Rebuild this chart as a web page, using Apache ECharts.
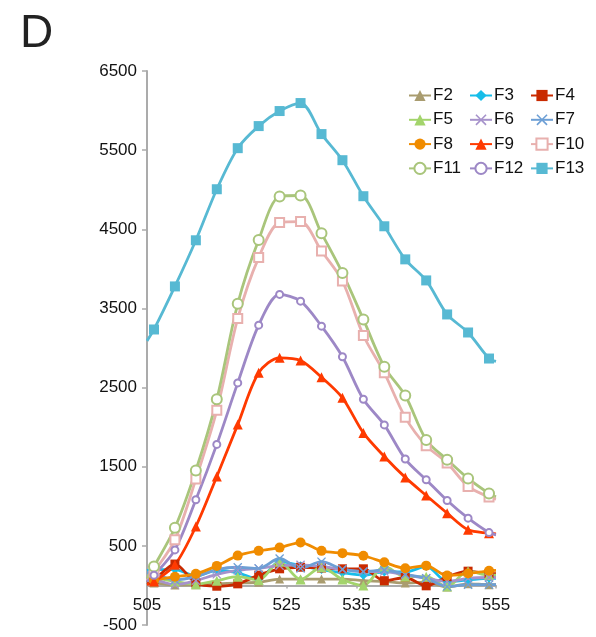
<!DOCTYPE html>
<html>
<head>
<meta charset="utf-8">
<script src="https://cdn.jsdelivr.net/npm/echarts@6/dist/echarts.min.js"></script>
<style>
html,body{margin:0;padding:0;background:#fff;}
#chart{width:596px;height:637px;}
</style>
</head>
<body>
<div id="chart"></div>
<script>
// wavelengths (nm) of measured points
const wavelengths = [506,509,512,515,518,521,524,527,530,533,536,539,542,545,548,551,554];
// where the lines are cut at the plot edges
const edgeX = [505, 555];
const xTicks = [505, 515, 525, 535, 545, 555];
const yTicks = [-500, 500, 1500, 2500, 3500, 4500, 5500, 6500];

const seriesNames = ['F2','F3','F4','F5','F6','F7','F8','F9','F10','F11','F12','F13'];
const F2  = [30, 5, 10, 20, 30, 40, 80, 80, 80, 80, 60, 50, 30, 40, -20, 20, 10];
const F3  = [200, 200, 120, 190, 160, 80, 300, 250, 200, 160, 130, 170, 170, 240, 50, 70, 90];
const F4  = [70, 270, 30, -10, 20, 130, 210, 230, 220, 210, 210, 60, 100, -5, 110, 180, 150];
const F5  = [100, 50, 15, 60, 110, 70, 300, 75, 230, 75, 0, 240, 110, 110, -15, 180, 130];
const F6  = [80, 10, 60, 140, 190, 215, 250, 260, 240, 200, 175, 175, 135, 90, 50, 90, 100];
const F7  = [150, 70, 110, 200, 230, 215, 340, 215, 300, 205, 175, 195, 140, 90, -15, 10, 10];
const F8  = [70, 110, 146, 247, 377, 437, 478, 542, 437, 408, 375, 292, 217, 250, 125, 150, 185];
const F9  = [50, 260, 744, 1377, 2032, 2686, 2876, 2842, 2630, 2370, 1927, 1630, 1365, 1137, 913, 703, 660];
const F10 = [171, 576, 1344, 2213, 3373, 4142, 4585, 4597, 4225, 3846, 3158, 2686, 2124, 1766, 1547, 1251, 1116];
const F11 = [238, 728, 1453, 2352, 3559, 4365, 4914, 4927, 4449, 3949, 3361, 2762, 2399, 1838, 1589, 1352, 1162];
const F12 = [129, 449, 1082, 1782, 2559, 3289, 3677, 3592, 3276, 2889, 2352, 2028, 1597, 1335, 1073, 850, 668];
const F13 = [3234, 3778, 4361, 5006, 5525, 5804, 5994, 6095, 5703, 5373, 4918, 4538, 4120, 3854, 3424, 3196, 2867];
// line values where lines meet the plot edges (505 and 555 nm)
const edgeValues = {
  F2: [20, 10], F3: [190, 90], F4: [40, 150], F5: [110, 130], F6: [100, 100], F7: [160, 10],
  F8: [60, 190], F9: [10, 650], F10: [60, 1090], F11: [90, 1120], F12: [50, 640], F13: [3090, 2830]
};
const values = {F2,F3,F4,F5,F6,F7,F8,F9,F10,F11,F12,F13};

const X_PATH = 'path://M0,1 L1,0 L5,4 L9,0 L10,1 L6,5 L10,9 L9,10 L5,6 L1,10 L0,9 L4,5 Z';
const styles = {
  F2:  {color:'#a99c6f', symbol:'triangle', size:9},
  F3:  {color:'#17bde9', symbol:'diamond', size:9},
  F4:  {color:'#c92a00', symbol:'rect', size:9},
  F5:  {color:'#a3d46c', symbol:'triangle', size:10},
  F6:  {color:'#a692cb', symbol:X_PATH, size:9},
  F7:  {color:'#6d9fd5', symbol:X_PATH, size:9},
  F8:  {color:'#f08c00', symbol:'circle', size:10},
  F9:  {color:'#ff3a00', symbol:'triangle', size:10},
  F10: {color:'#e8b0ae', symbol:'emptyRect', size:9},
  F11: {color:'#a9c57b', symbol:'emptyCircle', size:10},
  F12: {color:'#9d88c6', symbol:'emptyCircle', size:7},
  F13: {color:'#57b9d3', symbol:'rect', size:10}
};

const FONT = 'Liberation Sans, Arial, Helvetica, sans-serif';

const series = seriesNames.map(name => {
  const st = styles[name];
  const data = [{value:[edgeX[0], edgeValues[name][0]], symbol:'none'}]
    .concat(wavelengths.map((w,i) => [w, values[name][i]]))
    .concat([{value:[edgeX[1], edgeValues[name][1]], symbol:'none'}]);
  return {
    name, type:'line', data, smooth:0.3,
    symbol: st.symbol, symbolSize: st.size, showAllSymbol:true,
    clip:true,
    lineStyle:{color:st.color, width:2.8},
    itemStyle:{color:st.color, borderColor:st.color, borderWidth: st.symbol.startsWith('empty') ? 1.5 : 0},
    emphasis:{disabled:true},
    z: 2
  };
});

const legendCols = [['F2','F5','F8','F11'],['F3','F6','F9','F12'],['F4','F7','F10','F13']];
const legendLeft = [408, 469, 530];
const legends = legendCols.map((col, i) => ({
  data: col, orient:'vertical', left: legendLeft[i], top: 87, padding:0,
  itemWidth: 22, itemHeight: 14, itemGap: 7.3,
  textStyle:{fontFamily:FONT, fontSize:17, color:'#111', padding:[0,0,0,-3]},
  selectedMode:false
}));

const GRID = {left:147, right:100, top:71, bottom:12};
const plotH = 637 - GRID.top - GRID.bottom;
const yMin = yTicks[0], yMax = yTicks[yTicks.length-1];
// move the category axis up to the zero line
const xAxisOffset = -plotH * (0 - yMin) / (yMax - yMin);

const chart = echarts.init(document.getElementById('chart'), null, {renderer:'canvas'});
chart.setOption({
  animation:false,
  backgroundColor:'#fff',
  title:{text:'D', left:15, top:6, textStyle:{fontFamily:FONT, fontSize:46, fontWeight:'normal', color:'#222'}},
  legend: legends,
  grid:Object.assign({containLabel:false}, GRID),
  xAxis:{
    type:'value', min:xTicks[0], max:xTicks[xTicks.length-1], interval:10,
    offset: xAxisOffset,
    axisLine:{onZero:false, lineStyle:{color:'#ababab', width:2}},
    axisTick:{show:true, length:3, lineStyle:{color:'#ababab', width:1.5}},
    axisLabel:{fontFamily:FONT, fontSize:17, color:'#111', margin:11, showMinLabel:true, showMaxLabel:true,
      formatter: v => String(v)},
    splitLine:{show:false}
  },
  yAxis:{
    type:'value', min:yMin, max:yMax, interval:1000,
    axisLine:{show:true, lineStyle:{color:'#ababab', width:2}},
    axisTick:{show:true, length:5, lineStyle:{color:'#ababab', width:1.5}},
    axisLabel:{fontFamily:FONT, fontSize:17, color:'#111', margin:10, showMinLabel:true, showMaxLabel:true,
      formatter: v => String(v)},
    splitLine:{show:false}
  },
  series
});
</script>
</body>
</html>
